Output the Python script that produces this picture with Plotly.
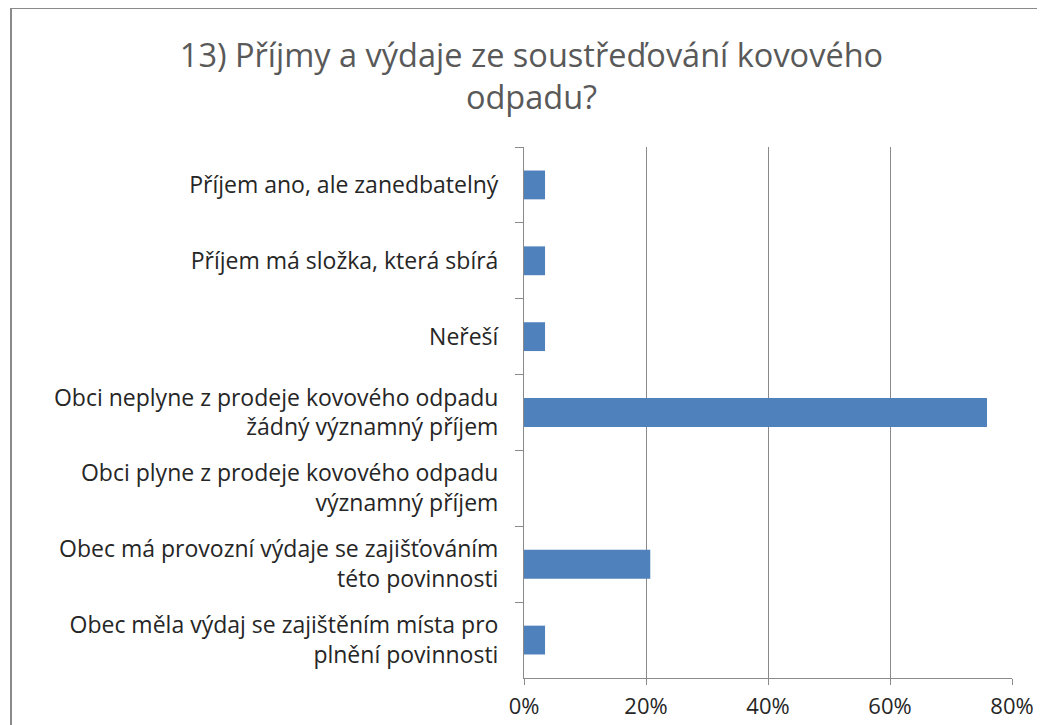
import plotly.graph_objects as go

categories = [
    "Příjem ano, ale zanedbatelný",
    "Příjem má složka, která sbírá",
    "Neřeší",
    "Obci neplyne z prodeje kovového odpadu<br>žádný významný příjem",
    "Obci plyne z prodeje kovového odpadu<br>významný příjem",
    "Obec má provozní výdaje se zajišťováním<br>této povinnosti",
    "Obec měla výdaj se zajištěním místa pro<br>plnění povinnosti",
]
values = [0.0345, 0.0345, 0.0345, 0.759, 0.0, 0.207, 0.0345]
x_ticks = [0, 0.2, 0.4, 0.6, 0.8]
x_tick_labels = ["0%", "20%", "40%", "60%", "80%"]

FONT = "Open Sans"
GRID = "#8a8a8a"
TEXT = "#262626"

# page body has an 8px margin on every side
W, H = 1029, 717
ML, MR, MT, MB = 516, 25, 139, 47

fig = go.Figure(
    go.Bar(
        x=values,
        y=categories,
        orientation="h",
        marker=dict(color="#4f81bd", line=dict(width=0)),
        width=0.38,
    )
)

fig.update_layout(
    width=W,
    height=H,
    paper_bgcolor="white",
    plot_bgcolor="white",
    margin=dict(l=ML, r=MR, t=MT, b=MB, autoexpand=False),
    showlegend=False,
    title=dict(
        text="13) Příjmy a výdaje ze soustřeďování kovového<br>odpadu?",
        x=(531.5 - 8) / W,
        xanchor="center",
        y=1 - (67 - 8) / H,
        yanchor="top",
        font=dict(family=FONT, size=32.5, color="#595959"),
    ),
    font=dict(family=FONT, color=TEXT),
)

fig.update_xaxes(
    range=[0, 0.8],
    tickvals=x_ticks,
    ticktext=x_tick_labels,
    showgrid=True,
    gridcolor=GRID,
    gridwidth=1,
    showline=True,
    linecolor=GRID,
    linewidth=1,
    ticks="outside",
    ticklen=6,
    tickcolor=GRID,
    ticklabelstandoff=3,
    tickfont=dict(family=FONT, size=22, color=TEXT),
    zeroline=False,
    automargin=False,
    fixedrange=True,
)

fig.update_yaxes(
    autorange="reversed",
    showline=True,
    linecolor=GRID,
    linewidth=1,
    ticks="outside",
    tickson="boundaries",
    ticklen=8,
    tickcolor=GRID,
    ticklabelstandoff=20,
    tickfont=dict(family=FONT, size=23, color=TEXT),
    showgrid=False,
    automargin=False,
    fixedrange=True,
)

# outer chart border (screen coords: left 11, top 8, running off right/bottom)
pw = W - ML - MR
ph = H - MT - MB
fig.add_shape(
    type="rect",
    xref="paper", yref="paper",
    x0=(11 - 8 - ML) / pw,
    x1=(1070 - 8 - ML) / pw,
    y0=(H - MB - 760) / ph,
    y1=(H - MB - 0) / ph,
    line=dict(color="#8a8a8a", width=2),
    fillcolor="rgba(0,0,0,0)",
    layer="below",
)

fig.write_html("out.html")
